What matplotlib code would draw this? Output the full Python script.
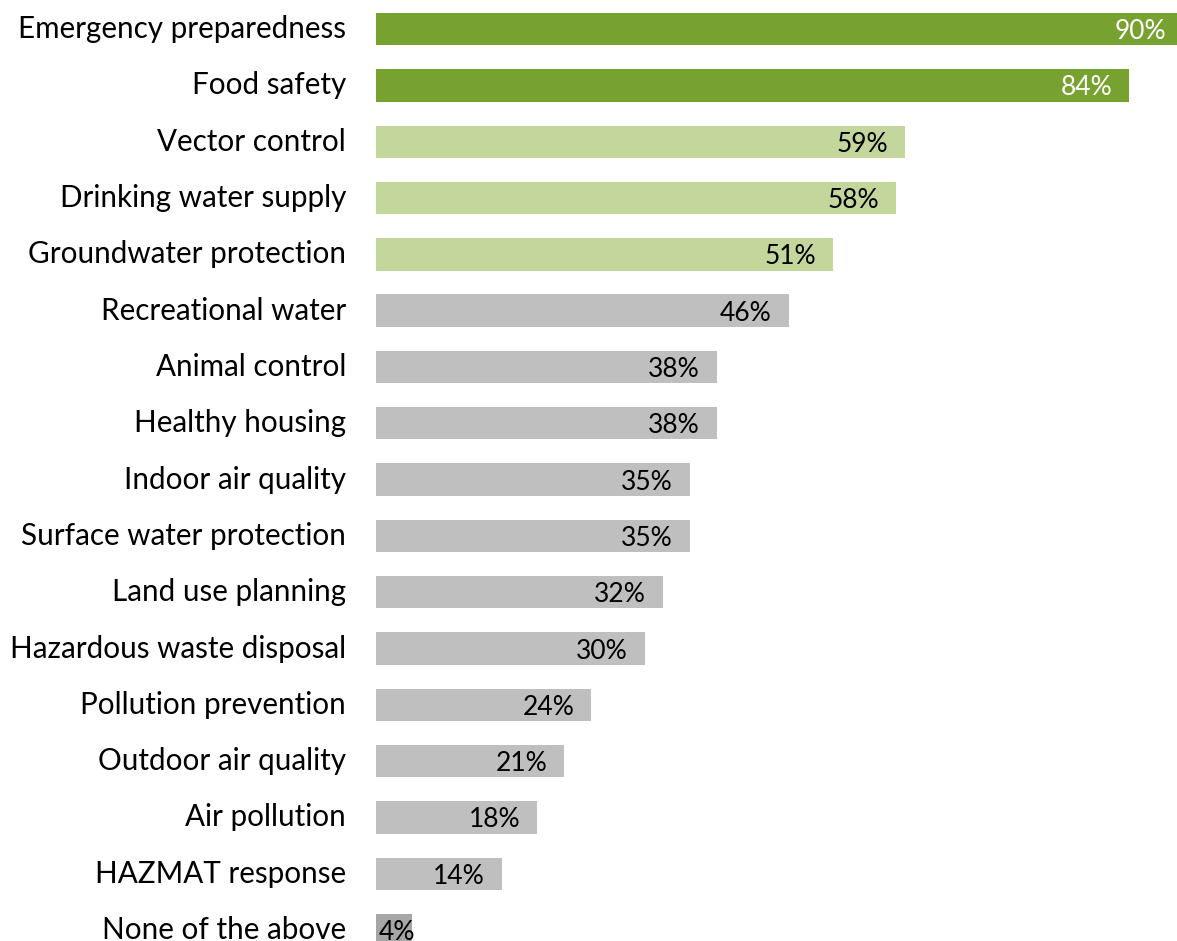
import matplotlib.pyplot as plt

# Daten (von oben nach unten)
categories = [
    "Emergency preparedness", "Food safety", "Vector control",
    "Drinking water supply", "Groundwater protection", "Recreational water",
    "Animal control", "Healthy housing", "Indoor air quality",
    "Surface water protection", "Land use planning", "Hazardous waste disposal",
    "Pollution prevention", "Outdoor air quality", "Air pollution",
    "HAZMAT response", "None of the above",
]
values = [90, 84, 59, 58, 51, 46, 38, 38, 35, 35, 32, 30, 24, 21, 18, 14, 4]
groups = ["top"] * 2 + ["mid"] * 3 + ["low"] * 11 + ["none"]

COLORS = {"top": "#78A22F", "mid": "#C3D69B", "low": "#BFBFBF", "none": "#A6A6A6"}
LABEL_COLORS = {"top": "white", "mid": "black", "low": "black", "none": "black"}

plt.rcParams['font.family'] = ['Lato', 'DejaVu Sans']

fig = plt.figure(figsize=(11.77, 9.41), dpi=100)
ax = fig.add_axes([376 / 1177, -0.0183, 801 / 1177, 1.0173])

ypos = list(range(len(categories)))
ax.barh(ypos, values, height=0.575, color=[COLORS[g] for g in groups])
ax.set_ylim(len(categories) - 0.5, -0.5)
ax.set_xlim(0, 89.3)

ax.set_yticks(ypos)
ax.set_yticklabels(categories, fontsize=21.3, va='center')
ax.tick_params(axis='y', length=0, pad=21.6)
ax.set_xticks([])
for s in ax.spines.values():
    s.set_visible(False)

# Werte-Labels am Balkenende
for y, v, g in zip(ypos, values, groups):
    if v < 8:
        ax.annotate(f"{v}%", xy=(0, y), xytext=(3, 0), textcoords='offset pixels',
                    ha='left', va='center_baseline', fontsize=19,
                    color=LABEL_COLORS[g], annotation_clip=False)
    else:
        ax.annotate(f"{v}%", xy=(v, y), xytext=(-17, 0), textcoords='offset pixels',
                    ha='right', va='center_baseline', fontsize=19,
                    color=LABEL_COLORS[g], annotation_clip=False)

plt.savefig("out.png", dpi=100)
plt.close()
